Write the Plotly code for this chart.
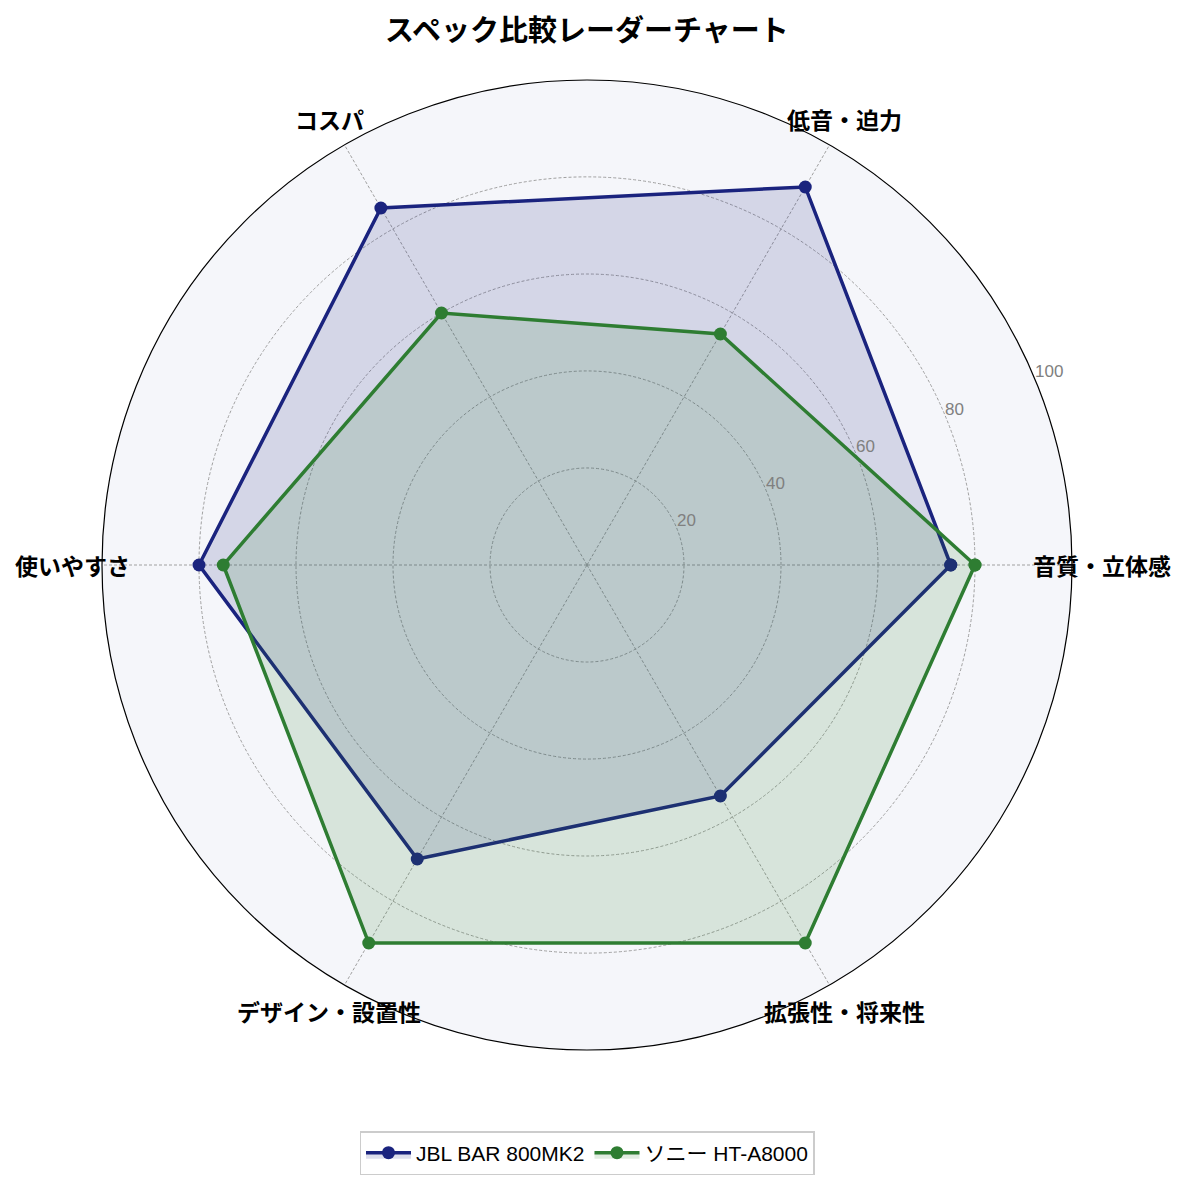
import math
import plotly.graph_objects as go

# radar data
categories = ["音質・立体感", "低音・迫力", "コスパ", "使いやすさ", "デザイン・設置性", "拡張性・将来性"]
jbl_name = "JBL BAR 800MK2"
jbl_scores = [75, 90, 85, 80, 70, 55]
sony_name = "ソニー HT-A8000"
sony_scores = [80, 55, 60, 75, 90, 90]
r_ticks = [20, 40, 60, 80, 100]

FONT = "Noto Sans CJK JP"
LATIN = "Liberation Sans, Noto Sans CJK JP"
W, H = 1185, 1186
OFF = 8  # page body margin
RAD = 485  # px radius of the polar area
DOM_X = [(587 - RAD - OFF) / W, (587 + RAD - OFF) / W]
DOM_Y = [(H - 565 - RAD + OFF) / H, (H - 565 + RAD + OFF) / H]
RLABEL_ANGLE = 22.5

angles = [i * 360 / len(categories) for i in range(len(categories))]


def closed(vals):
    return list(vals) + [vals[0]]


fig = go.Figure()
for name, vals, col, fill in [
    (jbl_name, jbl_scores, "#1a237e", "rgba(26,35,126,0.15)"),
    (sony_name, sony_scores, "#2e7d32", "rgba(46,125,50,0.15)"),
]:
    fig.add_trace(go.Scatterpolar(
        r=closed(vals), theta=closed(angles), name=name,
        mode="lines+markers", fill="toself", fillcolor=fill,
        line=dict(color=col, width=3.5), marker=dict(color=col, size=13),
    ))

cx = (DOM_X[0] + DOM_X[1]) / 2
cy = (DOM_Y[0] + DOM_Y[1]) / 2
annos = []

# title as a plain annotation near the top
annos.append(dict(
    text="<b>スペック比較レーダーチャート</b>", xref="paper", yref="paper", showarrow=False,
    x=cx, y=1 - (28 - OFF) / H, xanchor="center", yanchor="middle",
    font=dict(family=FONT, size=29, color="black"),
))

# category labels centred around the outer ring, like matplotlib does
lab_r = 515
for cat, a in zip(categories, angles):
    t = math.radians(a)
    annos.append(dict(
        text=f"<b>{cat}</b>", xref="paper", yref="paper", showarrow=False,
        x=cx + lab_r * math.cos(t) / W, y=cy + lab_r * math.sin(t) / H,
        xanchor="center", yanchor="middle",
        font=dict(family=FONT, size=23, color="black"),
    ))

# radial tick labels sitting just up-right of each ring
t = math.radians(RLABEL_ANGLE)
for v in r_ticks:
    rp = RAD * v / 100
    annos.append(dict(
        text=str(v), xref="paper", yref="paper", showarrow=False,
        x=cx + rp * math.cos(t) / W, y=cy + rp * math.sin(t) / H,
        xanchor="left", yanchor="bottom", xshift=-2, yshift=-4,
        font=dict(family=LATIN, size=17, color="#808080"),
    ))

fig.update_layout(
    width=W, height=H, margin=dict(l=0, r=0, t=0, b=0),
    paper_bgcolor="white", font=dict(family=FONT),
    polar=dict(
        domain=dict(x=DOM_X, y=DOM_Y),
        bgcolor="#f5f6fa",
        radialaxis=dict(range=[0, 100], tickvals=r_ticks, angle=RLABEL_ANGLE,
                        showticklabels=False, showline=False, ticks="",
                        gridcolor="#a0a0a0", griddash="3px,2px", gridwidth=0.8),
        angularaxis=dict(tickvals=angles, ticktext=["" for _ in categories],
                         direction="counterclockwise", rotation=0, ticks="",
                         showline=True, linecolor="black", linewidth=1.2,
                         gridcolor="#a0a0a0", griddash="3px,2px", gridwidth=0.8),
    ),
    legend=dict(orientation="h", x=cx, xanchor="center", y=1 - (1153 - OFF) / H,
                yanchor="middle", bordercolor="#cccccc", borderwidth=1.5, bgcolor="white",
                itemwidth=45, font=dict(family=LATIN, size=21, color="black")),
    annotations=annos,
)

fig.write_html("out.html")
